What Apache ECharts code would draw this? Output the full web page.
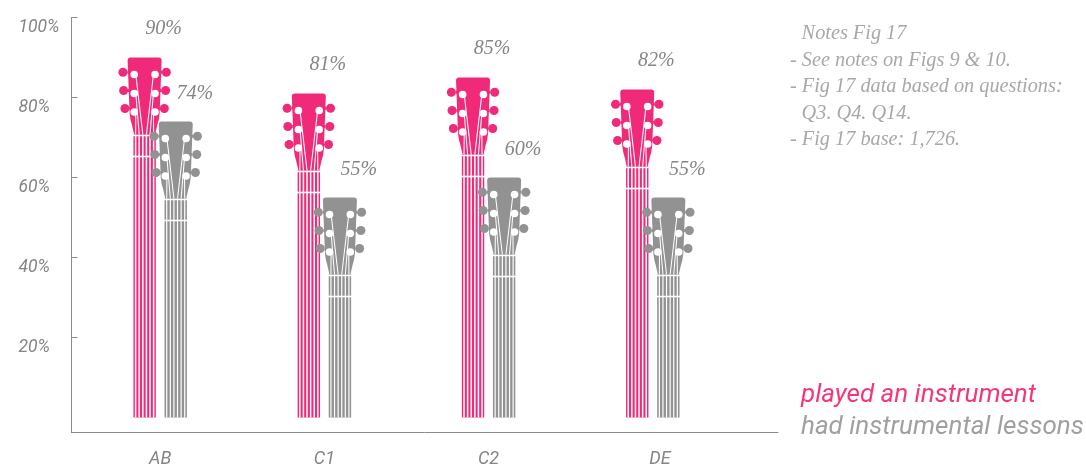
<!DOCTYPE html>
<html>
<head>
<meta charset="utf-8">
<style>html,body{margin:0;padding:0;background:#fff}#c{width:1086px;height:467px}</style>
<script src="https://cdn.jsdelivr.net/npm/echarts@6/dist/echarts.min.js"></script>
</head>
<body>
<div id="c"></div>
<script>
const categories = ['AB', 'C1', 'C2', 'DE'];
const categoryLabelAt = [0, 1, 2, 3.044];
const playedValues = [90, 81, 85, 82];
const lessonsValues = [74, 55, 60, 55];
const yTicks = [20, 40, 60, 80, 100];
const seriesNames = ['played an instrument', 'had instrumental lessons'];
const notes = [
  'Notes Fig 17',
  '- See notes on Figs 9 & 10.',
  '- Fig 17 data based on questions:',
  'Q3. Q4. Q14.',
  '- Fig 17 base: 1,726.'
];

const PINK = '#f02a78', GRAY = '#929292', AXIS = '#8c8c8c', TXT = '#858585';
const HEAD = 'M3,0 L31,0 Q34,0 34,3 L32,56 Q31.5,62 29.5,68 L27.5,77 L6.5,77 L4.5,68 Q2.5,62 2,56 L0,3 Q0,0 3,0 Z';
const KNOBS = [[21.7, 14.7], [21, 33], [19.7, 51]];
const PEGS = [[10.4, 17], [10.4, 36], [10.4, 54.5]];
const NUT_STR = [1.8, 5.4, 9];

function guitar(color, shift, stringW, multiplyKnobs, labelLift) {
  return function (params, api) {
    const i = api.value(0), v = api.value(1);
    const top = api.coord([i + shift, v]);
    const base = api.coord([i + shift, 0]);
    const cx = top[0], ty = top[1], by = base[1];
    const kids = [];
    const line = (x1, y1, x2, y2, w, c) => ({type: 'line', shape: {x1, y1, x2, y2}, style: {stroke: c || '#fff', lineWidth: w}});
    // neck
    kids.push({type: 'rect', shape: {x: cx - 11.2, y: ty + 77, width: 22.4, height: by - ty - 77}, style: {fill: color}});
    [-9, -5.4, -1.8, 1.8, 5.4, 9].forEach(d => kids.push(line(cx + d, ty + 70, cx + d, by, stringW)));
    kids.push(line(cx - 12, ty + 78, cx + 12, ty + 78, 1.5));
    kids.push(line(cx - 12, ty + 99, cx + 12, ty + 99, 1.6));
    // tuner knobs and stems
    const knobStyle = {fill: color};
    if (multiplyKnobs) knobStyle.blend = 'multiply';
    KNOBS.forEach(k => {
      [-1, 1].forEach(s => {
        const stemLen = k[0] - 4.4 - 14;
        kids.push({type: 'rect', shape: {
          x: s > 0 ? cx + 14 : cx - 14 - stemLen, y: ty + k[1] - 1.5, width: stemLen, height: 3
        }, style: knobStyle});
        kids.push({type: 'circle', shape: {cx: cx + s * k[0], cy: ty + k[1], r: 4.5}, style: knobStyle});
      });
    });
    // head
    kids.push({type: 'path', shape: {pathData: HEAD, x: cx - 17, y: ty, width: 34, height: 77, layout: 'cover'}, style: {fill: color}});
    // strings on head and pegs
    PEGS.forEach((p, n) => {
      [-1, 1].forEach(s => {
        kids.push(line(cx + s * (p[0] - 1.6), ty + p[1], cx + s * NUT_STR[n], ty + 77, 1.05));
        kids.push({type: 'circle', shape: {cx: cx + s * p[0], cy: ty + p[1], r: 3.8}, style: {fill: '#fff'}});
      });
    });
    // value label
    kids.push({type: 'text', x: cx + 19, y: ty - labelLift, style: {
      text: v + '%', fill: TXT, font: 'italic 20px "Liberation Serif"', align: 'center', verticalAlign: 'middle'
    }});
    return {type: 'group', children: kids};
  };
}

const shift = 15.55 / 164.2;
const chart = echarts.init(document.getElementById('c'), null, {renderer: 'canvas'});
chart.setOption({
  animation: false,
  backgroundColor: '#fff',
  grid: {left: 71.5, top: 17.5, width: 706.5, height: 415, outerBoundsMode: 'none', containLabel: false},
  legend: {
    orient: 'vertical', left: 791, top: 375, itemGap: 2, icon: 'none', itemWidth: 0, itemHeight: 0,
    selectedMode: false,
    data: [
      {name: seriesNames[0], textStyle: {color: '#f5357e'}},
      {name: seriesNames[1], textStyle: {color: '#a0a0a0'}}
    ],
    textStyle: {fontFamily: 'Roboto', fontStyle: 'italic', fontWeight: 400, fontSize: 26, lineHeight: 30}
  },
  xAxis: {
    type: 'value', min: -0.54, max: 3.7625,
    axisLine: {show: true, onZero: false, lineStyle: {color: AXIS, width: 1}},
    axisTick: {show: false}, splitLine: {show: false},
    axisLabel: {
      customValues: categoryLabelAt, margin: 18, color: TXT,
      fontFamily: 'Roboto', fontStyle: 'italic', fontWeight: 400, fontSize: 18,
      formatter: (v) => categories[categoryLabelAt.indexOf(v)] || ''
    }
  },
  yAxis: {
    type: 'value', min: -3.75, max: 100,
    axisLine: {show: true, onZero: false, lineStyle: {color: AXIS, width: 1}},
    axisTick: {show: true, inside: true, length: 6, customValues: yTicks, lineStyle: {color: AXIS}},
    splitLine: {show: false},
    axisLabel: {
      customValues: yTicks, formatter: '{value}%', margin: 53, align: 'left', verticalAlign: 'top', color: TXT,
      fontFamily: 'Roboto', fontStyle: 'italic', fontWeight: 400, fontSize: 17.5, padding: [1, 0, 0, 0]
    }
  },
  graphic: notes.map((t, i) => ({
    type: 'text', left: t.charAt(0) === '-' ? 790 : 801.6, top: 24 + i * 26.5,
    style: {text: t, fill: '#a8a8a8', font: 'italic 20.3px "Liberation Serif"'}
  })),
  series: [
    {name: seriesNames[0], type: 'custom', itemStyle: {color: PINK}, clip: false, encode: {x: 0, y: 1},
     renderItem: guitar(PINK, -shift, 1.5, false, 29), data: playedValues.map((v, i) => [i, v])},
    {name: seriesNames[1], type: 'custom', itemStyle: {color: GRAY}, clip: false, encode: {x: 0, y: 1},
     renderItem: guitar(GRAY, shift, 1.2, true, 28), data: lessonsValues.map((v, i) => [i, v])}
  ]
});
</script>
</body>
</html>
